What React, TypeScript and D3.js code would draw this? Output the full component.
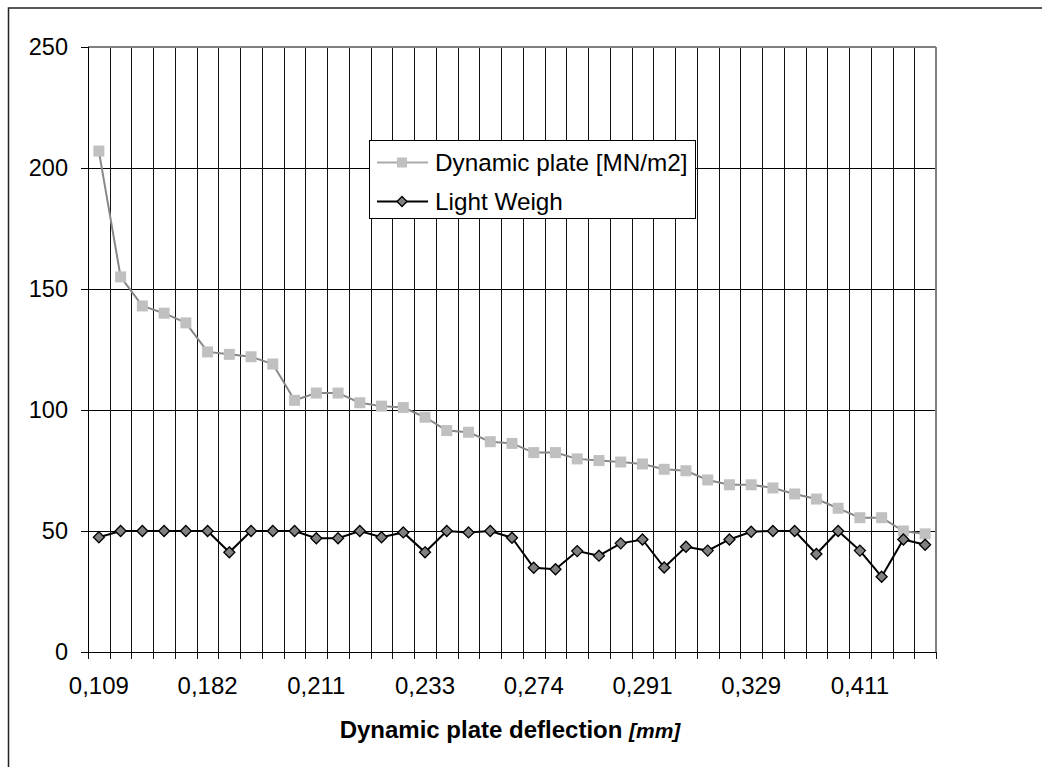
import React from 'react';
import * as d3 from 'd3';

// values, one per category (39 categories)
const dynamicPlate = [
  207, 155, 143, 140, 136, 124, 123, 122, 119, 104,
  107, 107, 103, 101.6, 101, 97, 91.5, 90.8, 86.9, 86.2,
  82.4, 82.4, 79.8, 79.1, 78.5, 77.7, 75.5, 74.9, 71.1, 69.1,
  69.1, 67.8, 65.3, 63.2, 59.4, 55.5, 55.5, 50, 48.8,
];
const lightWeigh = [
  47.4, 50, 50, 50, 50, 50, 41.2, 50, 50, 50,
  47, 47, 50, 47.4, 49.4, 41.2, 50, 49.4, 50, 47.2,
  34.8, 34.2, 41.7, 39.8, 44.9, 46.5, 34.9, 43.5, 41.9, 46.5,
  49.7, 50, 50, 40.5, 50, 41.9, 31.1, 46.5, 44.3,
];
// shown category labels, every 5th category
const tickLabels = ['0,109', '0,182', '0,211', '0,233', '0,274', '0,291', '0,329', '0,411'];
const labelStep = 5;
const yTicks = [0, 50, 100, 150, 200, 250];

const seriesNames = ['Dynamic plate [MN/m2]', 'Light Weigh'];

const W = 1042;
const H = 767;
const plot = { left: 88, right: 936, top: 47, bottom: 652 };
const font = '"Liberation Sans", Arial, sans-serif';

export default function App() {
  const idx = dynamicPlate.map((_, i) => i);
  const x = d3.scaleBand<number>().domain(idx).range([plot.left, plot.right]).padding(0);
  const y = d3.scaleLinear().domain([0, 250]).range([plot.bottom, plot.top]);
  const cx = (i: number) => (x(i) as number) + x.bandwidth() / 2;

  const line = d3.line<number>().x((_, i) => cx(i)).y(d => y(d));
  const edges = idx.map(i => x(i) as number).concat([plot.right]);

  const diamond = (px: number, py: number, r: number) =>
    `M${px},${py - r}L${px + r},${py}L${px},${py + r}L${px - r},${py}Z`;

  const lg = { x: 369.5, y: 140.5, w: 326, h: 78 };

  return (
    <svg width={W} height={H} style={{ position: 'absolute', left: 0, top: 0 }} fontFamily={font}>
      <rect x={0} y={0} width={W} height={H} fill="#fff" />
      {/* chart border, runs off the picture to the right and bottom */}
      <rect x={8.5} y={8} width={W + 20} height={H + 20} fill="none" stroke="#222" strokeWidth={1.5} />

      {/* horizontal gridlines */}
      {yTicks.map(t => (
        <line key={'h' + t} x1={plot.left} x2={plot.right} y1={Math.round(y(t)) + 0.5} y2={Math.round(y(t)) + 0.5} stroke="#000" strokeWidth={1} />
      ))}
      {/* vertical gridlines at category edges */}
      {edges.map((e, i) => (
        <line key={'v' + i} x1={Math.round(e) + 0.5} x2={Math.round(e) + 0.5} y1={plot.top} y2={plot.bottom + 7} stroke="#111" strokeWidth={1} />
      ))}

      {/* plot area border top / right */}
      <line x1={plot.left} x2={plot.right} y1={plot.top} y2={plot.top} stroke="#808080" strokeWidth={2} />
      <line x1={plot.right} x2={plot.right} y1={plot.top} y2={plot.bottom} stroke="#808080" strokeWidth={2} />

      {/* axes */}
      <line x1={plot.left + 0.5} x2={plot.left + 0.5} y1={plot.top} y2={plot.bottom} stroke="#000" />
      <line x1={plot.left} x2={plot.right} y1={plot.bottom + 0.5} y2={plot.bottom + 0.5} stroke="#000" />
      {yTicks.map(t => (
        <g key={'yt' + t}>
          <line x1={plot.left - 7} x2={plot.left} y1={Math.round(y(t)) + 0.5} y2={Math.round(y(t)) + 0.5} stroke="#000" />
          <text x={68} y={y(t)} dy="0.35em" textAnchor="end" fontSize={23.5} fill="#000">{t}</text>
        </g>
      ))}
      {tickLabels.map((lab, k) => (
        <text key={'xl' + k} x={cx(k * labelStep)} y={694} textAnchor="middle" fontSize={24} fill="#000">{lab}</text>
      ))}

      {/* axis title */}
      <text x={(plot.left + plot.right) / 2 - 2} y={738} textAnchor="middle" fontSize={24} fontWeight="bold" fill="#000">
        Dynamic plate deflection <tspan fontStyle="italic" fontSize={21}>[mm]</tspan>
      </text>

      {/* Dynamic plate series */}
      <path d={line(dynamicPlate) || ''} fill="none" stroke="#888" strokeWidth={2} />
      {dynamicPlate.map((v, i) => (
        <rect key={'s' + i} x={cx(i) - 5.5} y={y(v) - 5.5} width={11} height={11} fill="#c0c0c0" />
      ))}

      {/* Light Weigh series */}
      <path d={line(lightWeigh) || ''} fill="none" stroke="#000" strokeWidth={2} />
      {lightWeigh.map((v, i) => (
        <path key={'d' + i} d={diamond(cx(i), y(v), 5.5)} fill="#808080" stroke="#000" strokeWidth={1.3} />
      ))}

      {/* legend */}
      <rect x={lg.x} y={lg.y} width={lg.w} height={lg.h} fill="#fff" stroke="#000" strokeWidth={1} />
      <line x1={377} x2={428} y1={162.5} y2={162.5} stroke="#aaa" strokeWidth={2} />
      <rect x={402 - 5} y={162.5 - 5} width={10} height={10} fill="#c0c0c0" />
      <text x={435} y={162.5} dy="0.35em" fontSize={24.3} fill="#000">{seriesNames[0]}</text>
      <line x1={377} x2={428} y1={201.5} y2={201.5} stroke="#000" strokeWidth={2} />
      <path d={diamond(402, 201.5, 5)} fill="#808080" stroke="#000" strokeWidth={1.3} />
      <text x={435} y={201.5} dy="0.35em" fontSize={24.3} fill="#000">{seriesNames[1]}</text>
    </svg>
  );
}
